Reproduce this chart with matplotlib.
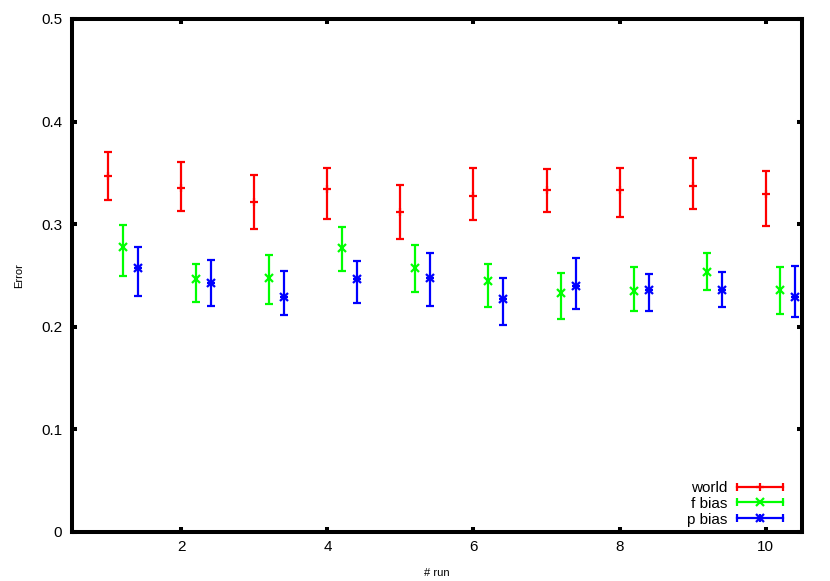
import numpy as np
import matplotlib.pyplot as plt
from matplotlib.lines import Line2D
from matplotlib.legend_handler import HandlerLine2D

plt.rcParams['font.family'] = ['Liberation Sans', 'DejaVu Sans']

runs = np.arange(1, 11)

world = [0.347, 0.335, 0.322, 0.334, 0.312, 0.327, 0.333, 0.333, 0.337, 0.329]
world_lo = [0.323, 0.313, 0.295, 0.305, 0.285, 0.304, 0.312, 0.307, 0.315, 0.298]
world_hi = [0.370, 0.361, 0.348, 0.355, 0.338, 0.355, 0.354, 0.355, 0.364, 0.352]

fbias = [0.278, 0.246, 0.247, 0.277, 0.257, 0.244, 0.233, 0.235, 0.253, 0.236]
fbias_lo = [0.249, 0.224, 0.222, 0.254, 0.234, 0.219, 0.207, 0.215, 0.236, 0.212]
fbias_hi = [0.299, 0.261, 0.270, 0.297, 0.280, 0.261, 0.252, 0.258, 0.272, 0.258]

pbias = [0.257, 0.243, 0.229, 0.246, 0.247, 0.227, 0.240, 0.236, 0.236, 0.229]
pbias_lo = [0.230, 0.220, 0.211, 0.223, 0.220, 0.202, 0.217, 0.215, 0.219, 0.209]
pbias_hi = [0.278, 0.265, 0.254, 0.264, 0.272, 0.247, 0.267, 0.251, 0.253, 0.259]

# gnuplot point types: + , x , * (plus and x on top of each other)
series = [
    ("world", 0.0, world, world_lo, world_hi, "#ff0000", ["+"]),
    ("f bias", 0.2, fbias, fbias_lo, fbias_hi, "#00ff00", ["x"]),
    ("p bias", 0.4, pbias, pbias_lo, pbias_hi, "#0000ff", ["x", "+"]),
]

fig = plt.figure(figsize=(8.3, 5.81), dpi=100)
ax = fig.add_axes([0.0867, 0.0849, 0.8796, 0.8824])

lw = 1.6
handles = []
hmap = {}
for name, off, y, lo, hi, col, marks in series:
    y = np.array(y)
    err = [y - np.array(lo), np.array(hi) - y]
    ax.errorbar(runs + off, y, yerr=err, fmt='none', ecolor=col,
                elinewidth=lw, capsize=2.6, capthick=lw)
    cap = Line2D([], [], color=col, lw=lw, marker='|', ms=6, mew=lw)
    hmap[cap] = HandlerLine2D(numpoints=2, marker_pad=0)
    h = [cap]
    for mk in marks:
        ax.plot(runs + off, y, ls='none', marker=mk, color=col, ms=5.5, mew=lw)
        dot = Line2D([], [], ls='none', color=col, marker=mk, ms=5.5, mew=lw)
        hmap[dot] = HandlerLine2D(numpoints=1)
        h.append(dot)
    handles.append(tuple(h))

ax.set_xlim(0.5, 10.5)
ax.set_ylim(0, 0.5)
ax.set_xticks([2, 4, 6, 8, 10])
ax.set_yticks([0, 0.1, 0.2, 0.3, 0.4, 0.5])
ax.set_yticklabels(["0", "0.1", "0.2", "0.3", "0.4", "0.5"])
ax.tick_params(direction='in', length=3.5, width=2.9, labelsize=11,
               top=True, right=True)
ax.tick_params(axis='y', pad=7)
ax.tick_params(axis='x', pad=6)
for s in ax.spines.values():
    s.set_linewidth(2.9)

ax.set_xlabel("# run", fontsize=8, labelpad=10)
ax.set_ylabel("Error", fontsize=8, labelpad=12)

ax.legend(handles, [s[0] for s in series], handler_map=hmap,
          loc='lower right', bbox_to_anchor=(0.993, -0.017), frameon=False,
          markerfirst=False, fontsize=11, handlelength=3.0,
          handletextpad=0.65, labelspacing=0.12)

fig.savefig("out.png", dpi=100)
